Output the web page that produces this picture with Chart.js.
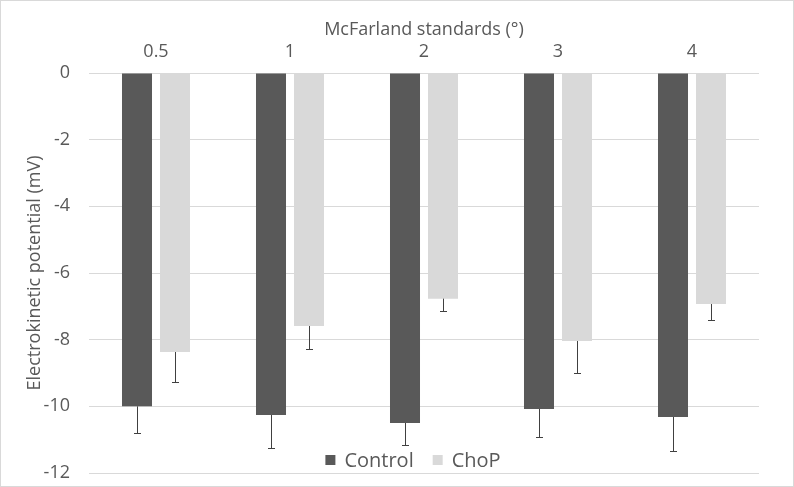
<!DOCTYPE html>
<html>
<head>
<meta charset="utf-8">
<script src="https://cdn.jsdelivr.net/npm/chart.js@4/dist/chart.umd.min.js"></script>
<style>
  html, body { margin: 0; padding: 0; background: #fff; }
  #wrap { width: 794px; height: 487px; position: relative; }
</style>
</head>
<body>
<div id="wrap"><canvas id="chart"></canvas></div>
<script>
// Data
const categories = ['0.5', '1', '2', '3', '4'];
const controlVals = [-10.0, -10.26, -10.5, -10.08, -10.32];
const chopVals = [-8.37, -7.59, -6.77, -8.04, -6.93];
const controlErr = [0.8, 0.99, 0.66, 0.84, 1.02];
const chopErr = [0.9, 0.69, 0.37, 0.96, 0.48];
const yTicks = [0, -2, -4, -6, -8, -10, -12];

const FONT = "'Open Sans', sans-serif";
const TXT = '#595959';

// Error bars, drawn downward only
const errorBars = {
    id: 'errorBars',
    afterDatasetsDraw(chart) {
        const ctx = chart.ctx, y = chart.scales.y;
        chart.data.datasets.forEach((ds, i) => {
            const meta = chart.getDatasetMeta(i);
            meta.data.forEach((bar, j) => {
                const end = y.getPixelForValue(ds.data[j] - ds.err[j]);
                const x = Math.round(bar.x) + 0.5;
                ctx.save();
                ctx.strokeStyle = '#404040';
                ctx.lineWidth = 1;
                ctx.beginPath();
                ctx.moveTo(x, bar.y);
                ctx.lineTo(x, end);
                ctx.moveTo(x - 3.5, Math.round(end) + 0.5);
                ctx.lineTo(x + 3.5, Math.round(end) + 0.5);
                ctx.stroke();
                ctx.restore();
            });
        });
    }
};

// Legend sits inside the plot, near the bottom
const innerLegend = {
    id: 'innerLegend',
    afterDraw(chart) {
        const ctx = chart.ctx, area = chart.chartArea;
        const cy = area.bottom - 13;
        ctx.save();
        ctx.font = '20px ' + FONT;
        ctx.textBaseline = 'middle';
        const items = chart.data.datasets.map(d => ({ label: d.label, color: d.backgroundColor }));
        const gap = 19, box = 10, pad = 9;
        const widths = items.map(it => box + pad + ctx.measureText(it.label).width);
        const total = widths.reduce((a, b) => a + b, 0) + gap * (items.length - 1);
        let x = (area.left + area.right) / 2 - 11 - total / 2;
        items.forEach((it, i) => {
            ctx.fillStyle = it.color;
            ctx.fillRect(x, cy - box / 2, box, box);
            ctx.fillStyle = TXT;
            ctx.fillText(it.label, x + box + pad, cy + 1);
            x += widths[i] + gap;
        });
        // outer frame
        ctx.strokeStyle = '#d9d9d9';
        ctx.lineWidth = 1;
        ctx.strokeRect(0.5, 0.5, chart.width - 1, chart.height - 1);
        ctx.restore();
    }
};

new Chart(document.getElementById('chart'), {
    type: 'bar',
    data: {
        labels: categories,
        datasets: [
            { label: 'Control', data: controlVals, err: controlErr, backgroundColor: '#595959' },
            { label: 'ChoP', data: chopVals, err: chopErr, backgroundColor: '#d9d9d9' }
        ]
    },
    options: {
        responsive: true,
        maintainAspectRatio: false,
        animation: false,
        layout: { padding: { left: 0, right: 35, top: 0, bottom: 14 } },
        datasets: { bar: { categoryPercentage: 0.567, barPercentage: 0.79 } },
        plugins: { legend: { display: false }, tooltip: { enabled: false } },
        scales: {
            x: {
                position: 'top',
                grid: { display: false },
                border: { display: false },
                ticks: { color: TXT, font: { family: FONT, size: 18 }, padding: 2 },
                title: { display: true, text: 'McFarland standards (°)', color: TXT, font: { family: FONT, size: 18 }, padding: { top: 19, bottom: 0 } },
                afterFit(s) { s.height = 73; }
            },
            y: {
                min: -12,
                max: 0,
                afterBuildTicks(s) { s.ticks = yTicks.map(v => ({ value: v })); },
                // invisible tick marks keep the labels off the plot without adding vertical padding
                grid: { color: '#d9d9d9', drawTicks: true, tickLength: 19, tickColor: 'rgba(0,0,0,0)' },
                border: { display: false },
                ticks: { color: TXT, font: { family: FONT, size: 18 }, padding: 0 },
                title: { display: true, text: 'Electrokinetic potential (mV)', color: TXT, font: { family: FONT, size: 18 }, padding: { top: 24, bottom: 0 } },
                afterFit(s) { s.width = 89; }
            }
        }
    },
    plugins: [errorBars, innerLegend]
});
</script>
</body>
</html>
